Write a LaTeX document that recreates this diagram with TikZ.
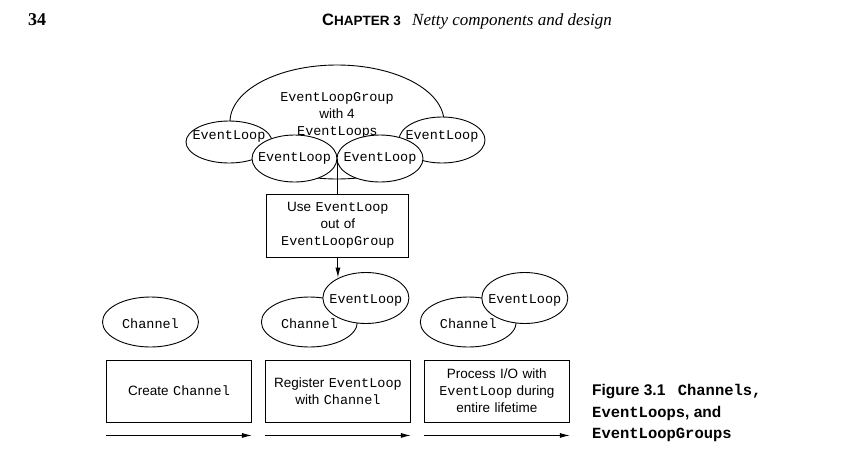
\documentclass[tikz,border=0pt]{standalone}
\usepackage{fontspec}
\setmainfont{Liberation Serif}
\setsansfont{Liberation Sans}
\setmonofont{Liberation Mono}
\usetikzlibrary{shapes, arrows.meta, calc, positioning}
\tikzstyle{phase} = [rectangle, draw, fill=white, line width=0.9pt,
    text width=136pt, text centered, minimum width=145pt, minimum height=62pt]
\tikzstyle{evloop} = [ellipse, draw, fill=white, line width=0.9pt, inner sep=0pt,
    minimum width=86pt, minimum height=46pt]
\tikzstyle{chan} = [ellipse, draw, fill=white, line width=0.9pt, inner sep=0pt,
    minimum width=96pt, minimum height=50pt]
\tikzstyle{tag} = [inner sep=0pt, font=\ttfamily\fontsize{13.5}{17}\selectfont]
\tikzstyle{line} = [draw, line width=0.9pt, -{Latex[length=10pt,width=5pt]}]
\begin{document}
\begin{tikzpicture}[x=1pt, y=-1pt,
    font=\sffamily\fontsize{13.5}{17}\selectfont,
    header/.style={anchor=base west, inner sep=0pt},
    cellHeight/.style={minimum height=51pt}
    ]
    \path [fill=white, use as bounding box] (0,0) rectangle (860,461);

    % Header
    \node [header, font=\rmfamily\bfseries\fontsize{18}{18}\selectfont] (page) at (28,25) {34};
    \node [header, font=\sffamily\bfseries] (chapter) at (322,25)
          {\fontsize{16.5}{17}\selectfont C\fontsize{13.5}{14}\selectfont HAPTER 3};
    \node [header, font=\rmfamily\itshape\fontsize{17}{17}\selectfont] (title) at (412,25)
          {Netty components and design};

    % Group
    \node [ellipse, draw, line width=0.9pt, minimum width=214pt, minimum height=114pt] (group) at (337,122) {};
    \node [align=center] (grouptext) at (337,115)
          {\texttt{EventLoopGroup}\\ with 4\\ \texttt{EventLoop}s};
    \node [evloop, minimum height=42pt] (loopa) at (229,142) {};
    \node [evloop] (loopd) at (442,140) {};
    \node [evloop, minimum width=85pt, minimum height=47pt] (loopb) at (294.5,158.5) {};
    \node [evloop, minimum height=47pt] (loopc) at (380,158.5) {};
    \node [tag] at ($(loopa)+(0,-6)$) {EventLoop};
    \node [tag] at (loopb) {EventLoop};
    \node [tag] at (loopc) {EventLoop};
    \node [tag] at ($(loopd)+(0,-4)$) {EventLoop};

    % Steps
    \node [phase] (create) at (179,391) {Create \texttt{Channel}};
    \node [phase, right=13pt of create] (register) {Register \texttt{EventLoop}\\ with \texttt{Channel}};
    \node [phase, right=13pt of register] (process) {Process I/O with\\ \texttt{EventLoop} during\\ entire lifetime};
    \node [phase, text width=134pt, minimum width=142pt, minimum height=63pt, above=102pt of register] (use)
          {Use \texttt{EventLoop}\\ out of\\ \texttt{EventLoopGroup}};

    % Channels
    \node [chan] (chana) at ($(create)+(-28.5,-69)$) {};
    \node [chan] (chanb) at ($(register)+(-28.5,-69)$) {};
    \node [evloop, cellHeight] (loope) at ($(register)+(28,-93)$) {};
    \node [chan] (chanc) at ($(process)+(-28.5,-69)$) {};
    \node [evloop, cellHeight] (loopf) at ($(process)+(28,-93)$) {};
    \node [tag] at ($(chana)+(0,2)$) {Channel};
    \node [tag] at ($(chanb)+(0,2)$) {Channel};
    \node [tag] at ($(chanc)+(0,2)$) {Channel};
    \node [tag] at ($(loope)+(0,2)$) {EventLoop};
    \node [tag] at ($(loopf)+(0,2)$) {EventLoop};

    % Edges
    \path [draw, line width=0.9pt] (loopb.east) -- (loopb.east |- use.north);
    \path [line] (use.south) -- (use.south |- loope.143);
    \path [line] ([yshift=-13pt]create.south west) -- ([yshift=-13pt]create.south east);
    \path [line] ([yshift=-13pt]register.south west) -- ([yshift=-13pt]register.south east);
    \path [line] ([yshift=-13pt]process.south west) -- ([yshift=-13pt]process.south east);

    % Caption
    \node [anchor=west, align=left, inner sep=0pt, font=\sffamily\bfseries\fontsize{15.5}{21.5}\selectfont] (caption) at (592,413)
          {Figure 3.1\hspace{0.8em}\texttt{Channels,}\\ \texttt{EventLoops}, and\\ \texttt{EventLoopGroups}};
\end{tikzpicture}
\end{document}
